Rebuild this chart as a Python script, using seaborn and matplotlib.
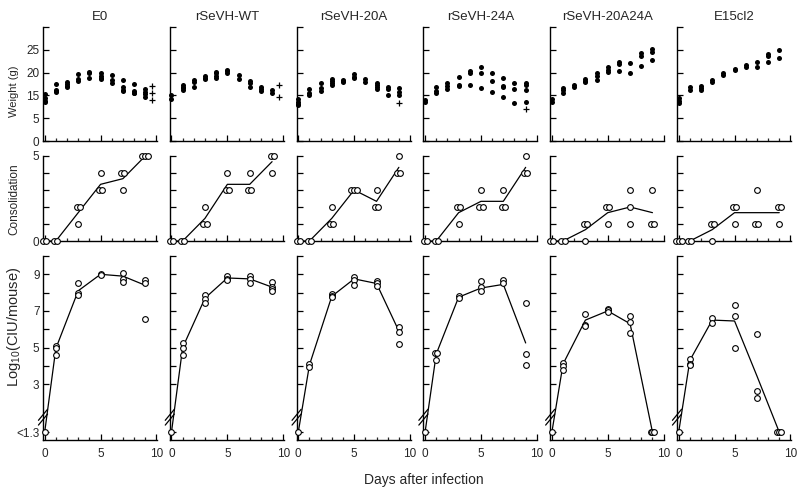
import numpy as np
import pandas as pd
import matplotlib
matplotlib.use("Agg")
import matplotlib.pyplot as plt
import seaborn as sns

# ---------------- data ----------------
strains = ["E0", "rSeVH-WT", "rSeVH-20A", "rSeVH-24A", "rSeVH-20A24A", "E15cl2"]

weight_days = [0, 1, 2, 3, 4, 5, 6, 7, 8, 9]
weight_E0 = [[15.3, 14.3, 13.8, 13.5], [17.5, 16.2, 15.8, 16.0], [18.0, 17.4, 17.0, 16.8],
             [19.6, 18.5, 18.2], [20.2, 20.0, 18.7], [19.8, 19.3, 18.8, 18.5],
             [19.4, 18.3, 17.6], [18.3, 16.8, 16.2, 16.0], [17.4, 15.9, 15.6, 15.5],
             [16.4, 15.8, 15.2, 14.7]]
weight_WT = [[15.1, 14.2], [17.3, 16.9, 16.5, 16.2], [18.4, 18.0, 16.8], [19.2, 18.9, 18.6],
             [20.2, 19.8, 19.3, 18.9], [20.6, 20.3, 19.9], [19.5, 18.6], [18.1, 17.6, 16.9],
             [16.8, 16.4, 16.0], [16.2, 15.6]]
weight_20A = [[14.2, 13.6, 13.1, 12.8], [16.3, 15.5, 15.0], [17.7, 16.6, 16.0],
              [18.6, 18.1, 17.6, 17.2], [18.4, 18.0, 18.2], [19.6, 19.1, 18.7], [18.6, 17.9],
              [17.8, 17.3, 16.8, 16.4], [16.8, 16.3, 15.1], [16.6, 15.8, 15.0]]
weight_24A = [[14.0, 13.6], [16.9, 15.9, 15.4], [17.8, 17.0, 16.4], [19.1, 17.3, 17.1],
              [20.4, 20.0, 17.3], [21.2, 20.0, 16.5], [20.0, 18.2, 15.7],
              [18.8, 17.1, 16.8, 14.7], [17.7, 16.4, 13.3], [17.6, 17.3, 16.2, 13.6]]
weight_20A24A = [[14.1, 13.6], [16.6, 16.2, 15.6], [17.3, 16.8], [18.6, 18.2, 17.9],
                 [20.0, 19.2, 18.4], [21.2, 20.6, 20.2], [22.3, 21.8, 20.3], [22.1, 20.0],
                 [24.2, 23.6, 21.5], [25.1, 24.6, 22.7]]
weight_E15 = [[14.4, 13.8, 13.3], [16.9, 16.1], [17.1, 16.6, 16.1], [18.4, 17.9],
              [19.9, 19.4], [20.8, 20.5], [21.7, 21.3], [22.2, 21.2], [24.1, 23.7, 22.4],
              [25.0, 23.2]]
# animals that died (plotted as +)
cross_day = [9.6, 9.6, 9.0, 9.0, None, None]
cross_E0 = [17.1, 15.5, 13.9]
cross_WT = [17.3, 14.7]
cross_20A = [13.3]
cross_24A = [12.0]

cons_days = [0, 1, 3, 5, 7, 9]
cons_E0 = [[0, 0], [0, 0], [2, 2, 1], [4, 3, 3], [4, 4, 3], [5, 5, 5]]
cons_WT = [[0, 0], [0, 0], [2, 1, 1], [4, 3, 3], [4, 3, 3], [5, 5, 4]]
cons_20A = [[0, 0], [0, 0], [2, 1, 1], [3, 3, 3], [3, 2, 2], [5, 4, 4]]
cons_24A = [[0, 0], [0, 0], [2, 2, 1], [3, 2, 2], [3, 2, 2], [5, 4, 4]]
cons_20A24A = [[0, 0], [0, 0], [1, 1, 0], [2, 2, 1], [3, 2, 1], [3, 1, 1]]
cons_E15 = [[0, 0, 0], [0, 0], [1, 1, 0], [2, 2, 1], [3, 1, 1], [2, 2, 1]]

LOD = 1.3  # "<1.3" detection limit
log_days = [0, 1, 3, 5, 7, 9]
log_E0 = [[LOD], [5.1, 5.0, 4.6], [8.5, 8.0, 7.85], [9.0, 8.97], [9.05, 8.75, 8.6], [8.7, 8.5, 6.55]]
log_WT = [[LOD], [5.25, 4.95, 4.6], [7.85, 7.65, 7.45], [8.9, 8.75, 8.7], [8.9, 8.75, 8.5],
          [8.6, 8.3, 8.2, 8.1]]
log_20A = [[LOD], [4.1, 3.95], [7.9, 7.8, 7.75], [8.85, 8.7, 8.4], [8.65, 8.5, 8.35], [6.1, 5.85, 5.2]]
log_24A = [[LOD], [4.7, 4.7, 4.3], [7.8, 7.7], [8.65, 8.3, 8.1], [8.7, 8.55], [7.45, 4.65, 4.05]]
log_20A24A = [[LOD], [4.15, 4.0, 3.8], [6.85, 6.25, 6.15], [7.1, 7.05, 6.95], [6.75, 6.4, 5.8],
              [LOD, LOD, LOD]]
log_E15 = [[LOD], [4.4, 4.1, 4.05], [6.6, 6.35], [7.3, 6.75, 5.0], [5.75, 2.65, 2.25], [LOD, LOD, LOD]]
line_E0 = [LOD, 4.95, 8.1, 9.0, 8.9, 8.4]
line_WT = [LOD, 5.0, 7.7, 8.8, 8.75, 8.3]
line_20A = [LOD, 4.05, 7.8, 8.75, 8.5, 5.9]
line_24A = [LOD, 4.65, 7.75, 8.25, 8.45, 5.25]
line_20A24A = [LOD, 4.1, 6.5, 7.0, 6.3, LOD]
line_E15 = [LOD, 4.3, 6.5, 6.45, 3.45, LOD]

weights = [weight_E0, weight_WT, weight_20A, weight_24A, weight_20A24A, weight_E15]
crosses = [cross_E0, cross_WT, cross_20A, cross_24A, [], []]
conss = [cons_E0, cons_WT, cons_20A, cons_24A, cons_20A24A, cons_E15]
logs = [log_E0, log_WT, log_20A, log_24A, log_20A24A, log_E15]
lines = [line_E0, line_WT, line_20A, line_24A, line_20A24A, line_E15]


def to_frame(days, groups, step=0.0):
    rows = []
    for d, vals in zip(days, groups):
        counts = {}
        for v in vals:
            counts[v] = counts.get(v, 0) + 1
        seen = {}
        for v in vals:
            n = counts[v]
            i = seen.get(v, 0)
            seen[v] = i + 1
            rows.append({"day": d, "x": d + (i - (n - 1) / 2) * step, "value": v})
    return pd.DataFrame(rows)


# ---------------- scales (broken axes) ----------------
def w_fwd(v):
    v = np.asarray(v, float)
    return np.where(v <= 5, v / 5, np.where(v <= 10, 1 + (v - 5) * 0.002, 1.01 + (v - 10) / 5))


def w_inv(p):
    p = np.asarray(p, float)
    return np.where(p <= 1, p * 5, np.where(p <= 1.01, 5 + (p - 1) / 0.002, 10 + (p - 1.01) * 5))


K = 1.62 / 0.7


def l_fwd(v):
    v = np.asarray(v, float)
    return np.where(v >= 2, v, 0.38 + (v - 1.3) * K)


def l_inv(p):
    p = np.asarray(p, float)
    return np.where(p >= 2, p, 1.3 + (p - 0.38) / K)


# ---------------- style ----------------
sns.set_style("ticks")
plt.rcParams["font.family"] = ["Liberation Sans", "DejaVu Sans"]
plt.rcParams["mathtext.default"] = "regular"
plt.rcParams["axes.linewidth"] = 1.0

W, H = 799, 491
fig = plt.figure(figsize=(W / 100, H / 100), dpi=100)
rows_px = [(27, 141), (156, 241), (256, 440)]
col_left = [43 + c * 126.8 for c in range(6)]
AXW = 114


def style_axes(ax, bottom_labels):
    sns.despine(ax=ax)
    ax.set_xlim(-0.15, 10.05)
    ax.set_xticks([0, 5, 10])
    ax.set_xticks([d for d in range(1, 10) if d != 5], minor=True)
    ax.tick_params(axis="both", which="major", direction="in", length=4, width=0.9,
                   labelsize=8.5, color="black", pad=2.5)
    ax.tick_params(axis="x", which="minor", direction="in", length=2.5, width=0.9)
    ax.tick_params(axis="x", which="major", pad=6)
    if bottom_labels:
        ax.set_xticklabels(["0", "5", "10"])
    else:
        ax.set_xticklabels([])
    ax.set_xlabel("")
    ax.set_ylabel("")
    for s in ax.spines.values():
        s.set_color("black")


for c in range(6):
    # ---- weight ----
    top, bot = rows_px[0]
    ax = fig.add_axes([col_left[c] / W, 1 - bot / H, AXW / W, (bot - top) / H])
    ax.set_yscale("function", functions=(w_fwd, w_inv))
    dfw = to_frame(weight_days, weights[c])
    sns.scatterplot(data=dfw, x="x", y="value", ax=ax, color="black", s=13, linewidth=0,
                    legend=False, clip_on=False, zorder=3)
    if crosses[c]:
        dfc = pd.DataFrame({"x": [cross_day[c]] * len(crosses[c]), "value": crosses[c]})
        sns.scatterplot(data=dfc, x="x", y="value", ax=ax, marker="+", color="black", s=20,
                        linewidth=0.9, legend=False, clip_on=False, zorder=3)
    ax.set_ylim(0, 30)
    ax.set_yticks([0, 5, 15, 20, 25, 30])
    style_axes(ax, False)
    ax.set_yticklabels(["0", "5", "15", "20", "25", ""] if c == 0 else [])
    fig.text((col_left[c] + AXW / 2) / W, 1 - 17 / H, strains[c], ha="center", va="center",
             fontsize=9.5)

    # ---- consolidation ----
    top, bot = rows_px[1]
    ax = fig.add_axes([col_left[c] / W, 1 - bot / H, AXW / W, (bot - top) / H])
    dfs = to_frame(cons_days, conss[c], step=0.28)
    sns.lineplot(data=dfs, x="day", y="value", ax=ax, color="black", linewidth=0.9,
                 errorbar=None, estimator="mean", legend=False, zorder=2)
    sns.scatterplot(data=dfs, x="x", y="value", ax=ax, color="white", edgecolor="black",
                    s=17, linewidth=0.8, legend=False, clip_on=False, zorder=3)
    ax.set_ylim(0, 5)
    ax.set_yticks([0, 1, 2, 3, 4, 5])
    style_axes(ax, False)
    ax.set_yticklabels(["0", "", "", "", "", "5"] if c == 0 else [])

    # ---- log10 CIU ----
    top, bot = rows_px[2]
    ax = fig.add_axes([col_left[c] / W, 1 - bot / H, AXW / W, (bot - top) / H])
    ax.set_yscale("function", functions=(l_fwd, l_inv))
    dfl = to_frame(log_days, logs[c], step=0.16)
    sns.lineplot(x=log_days, y=lines[c], ax=ax, color="black", linewidth=0.9,
                 legend=False, zorder=2)
    sns.scatterplot(data=dfl, x="x", y="value", ax=ax, color="white", edgecolor="black",
                    s=17, linewidth=0.8, legend=False, clip_on=False, zorder=3)
    ax.set_ylim(float(l_inv(-0.05)), 10)
    ax.set_yticks([LOD, 3, 4, 5, 6, 7, 8, 9, 10])
    style_axes(ax, True)
    ax.set_yticklabels(["<1.3", "3", "", "5", "", "7", "", "9", ""] if c == 0 else [])
    # axis-break marks
    yb = 0.124
    for dy in (-0.013, 0.013):
        ax.plot([-0.04, 0.04], [yb + dy - 0.03, yb + dy + 0.03], transform=ax.transAxes,
                color="black", lw=0.9, clip_on=False, zorder=4)

fig.text(14 / W, 1 - 91 / H, "Weight (g)", rotation=90, ha="center", va="center", fontsize=8)
fig.text(14 / W, 1 - 199 / H, "Consolidation", rotation=90, ha="center", va="center", fontsize=8.5)
fig.text(14 / W, 1 - 327 / H, "Log$_{10}$(CIU/mouse)", rotation=90, ha="center", va="center",
         fontsize=10.5)
fig.text(424 / W, 1 - 480 / H, "Days after infection", ha="center", va="center", fontsize=10)

fig.savefig("out.png", dpi=100)
